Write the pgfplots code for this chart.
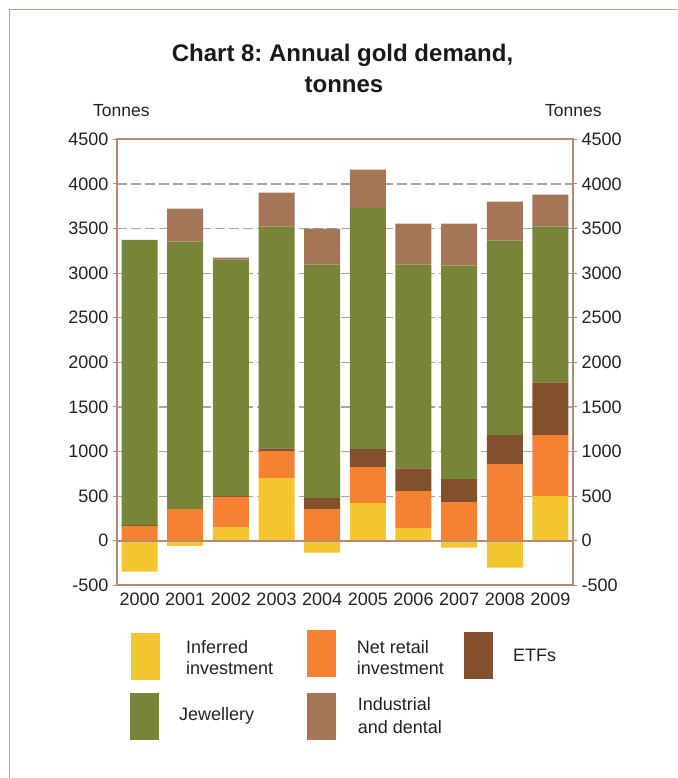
\documentclass[border=0pt]{standalone}
\usepackage{fontspec}
\setmainfont{Liberation Sans}
\usepackage{pgfplots}
\pgfplotsset{compat=1.18}
\usepackage{pgfplotstable}
\frenchspacing

\definecolor{cyellow}{HTML}{F2C531}
\definecolor{corange}{HTML}{F48232}
\definecolor{cetf}{HTML}{82502D}
\definecolor{cjew}{HTML}{788538}
\definecolor{cind}{HTML}{A57558}
\definecolor{framec}{HTML}{B48B72}
\definecolor{bordc}{HTML}{C4A08A}
\definecolor{txt}{HTML}{222222}

\pgfplotstableread{
x infneg infpos net etf jew ind
0 -347 0   168 8   3197 0
1 -56  0   355 0   2999 369
2 0    153 339 10  2650 23
3 0    702 302 33  2485 380
4 -134 0   355 123 2618 403
5 0    422 403 201 2705 428
6 0    142 414 257 2283 459
7 -78  0   433 257 2395 470
8 -302 0   858 325 2182 436
9 0    504 679 593 1746 358
}\golddata

\pgfplotsset{
  goldaxis/.style={
    at={(116.7pt,192.6pt)}, anchor=south west,
    scale only axis, width=456.6pt, height=446.1pt,
    xmin=-0.5, xmax=9.5, ymin=-500, ymax=4500,
    bar width=36pt,
    axis line style={draw=framec, line width=1.8pt},
    ytick={-500,0,500,1000,1500,2000,2500,3000,3500,4000,4500},
    yticklabels={-500,0,500,1000,1500,2000,2500,3000,3500,4000,4500},
    tick align=outside, major tick length=4pt,
    ytick style={draw=framec, line width=1pt},
    tick label style={font=\fontsize{18}{20}\selectfont, text=txt},
  }
}

\begin{document}
\begin{tikzpicture}
\useasboundingbox (0,0) rectangle (677pt,778pt);
\draw[bordc, line width=1.5pt] (677pt,768.7pt) -- (9.3pt,768.7pt) -- (9.3pt,0pt);

\begin{axis}[goldaxis,
  ybar stacked,
  xtick={0,1,2,3,4,5,6,7,8,9},
  xticklabels={2000,2001,2002,2003,2004,2005,2006,2007,2008,2009},
  xtick style={draw=none},
  xticklabel style={inner sep=0pt, yshift=-3pt},
  ytick pos=left,
  yticklabel style={inner sep=0pt, xshift=-4pt},
  ymajorgrids,
  grid style={dash pattern=on 10pt off 4pt, draw=black!35, line width=1.2pt},
]
\addplot[fill=cyellow, draw=none] table[x=x,y=infpos]{\golddata};
\addplot[fill=corange, draw=none] table[x=x,y=net]{\golddata};
\addplot[fill=cetf, draw=none] table[x=x,y=etf]{\golddata};
\addplot[fill=cjew, draw=none] table[x=x,y=jew]{\golddata};
\addplot[fill=cind, draw=none] table[x=x,y=ind]{\golddata};
\end{axis}

\begin{axis}[goldaxis,
  ybar,
  xtick=\empty,
  ytick pos=right, yticklabel pos=right,
  yticklabel style={inner sep=0pt, xshift=4pt},
]
\addplot[fill=cyellow, draw=none] table[x=x,y=infneg]{\golddata};
\draw[framec, line width=1.8pt] (axis cs:-0.5,0) -- (axis cs:9.5,0);
\end{axis}

\node[anchor=base, inner sep=0, text=black!90, font=\bfseries\fontsize{24}{28}\selectfont] at (342.5pt,716pt) {Chart 8: Annual gold demand,};
\node[anchor=base, inner sep=0, text=black!90, font=\bfseries\fontsize{24}{28}\selectfont] at (344pt,685pt) {tonnes};

\node[anchor=base west, inner sep=0, text=txt, font=\fontsize{17.5}{20}\selectfont] at (93pt,661pt) {Tonnes};
\node[anchor=base west, inner sep=0, text=txt, font=\fontsize{17.5}{20}\selectfont] at (545pt,661pt) {Tonnes};

\fill[cyellow] (131pt,98pt) rectangle (160pt,145pt);
\fill[corange] (307pt,101pt) rectangle (336pt,148pt);
\fill[cetf] (464pt,99pt) rectangle (493pt,146pt);
\fill[cjew] (130pt,38pt) rectangle (159pt,85pt);
\fill[cind] (307pt,38pt) rectangle (336pt,85pt);

\begin{scope}[every node/.style={anchor=base west, inner sep=0, text=txt, font=\fontsize{18}{20}\selectfont}]
\node at (186pt,124.7pt) {Inferred};
\node at (186pt,103.7pt) {investment};
\node at (356.7pt,124.7pt) {Net retail};
\node at (356.7pt,103pt) {investment};
\node at (513pt,116.3pt) {ETFs};
\node at (179pt,57pt) {Jewellery};
\node at (357.7pt,67pt) {Industrial};
\node at (357.7pt,44.7pt) {and dental};
\end{scope}
\end{tikzpicture}
\end{document}
